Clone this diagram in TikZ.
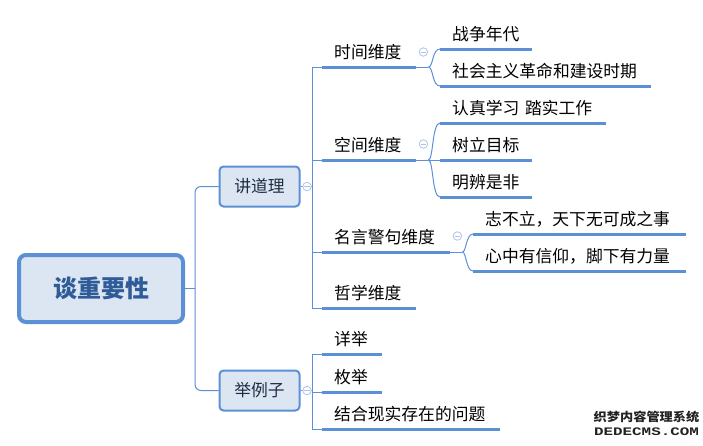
\documentclass[tikz,border=0pt]{standalone}
\usepackage{fontspec}
\setmainfont{Noto Sans CJK SC}
\newfontfamily\wmmono{Liberation Mono}
\definecolor{lineblue}{HTML}{5B8FD6}
\definecolor{boxfill}{HTML}{DCE6F2}
\definecolor{rootink}{HTML}{2F5C99}
\definecolor{boxink}{HTML}{1F2D44}
\definecolor{circblue}{HTML}{AFC4E6}
\definecolor{wmink}{HTML}{222222}
\tikzset{
  conn/.style={draw=lineblue, line width=1pt},
  uline/.style={draw=lineblue, line width=3pt},
  rootbox/.style={draw=lineblue, line width=4pt, fill=boxfill, rounded corners=7pt,
    minimum width=164pt, minimum height=67pt, inner sep=0pt,
    font=\fontsize{24}{28}\selectfont\bfseries, text=rootink},
  subbox/.style={draw=lineblue, line width=2pt, fill=boxfill, rounded corners=4pt,
    minimum width=80pt, minimum height=40pt, inner sep=0pt,
    font=\fontsize{16.8}{20}\selectfont, text=boxink},
  topic/.style={anchor=south west, inner xsep=12pt, inner ysep=5.5pt,
    text height=13pt, text depth=3pt, text width=#1, align=left,
    font=\fontsize{16.8}{20}\selectfont, text=black},
  collapse/.style={circle, draw=circblue, fill=white, line width=0.8pt,
    minimum size=8.5pt, inner sep=0pt,
    path picture={\draw[circblue, line width=0.8pt]
      ([xshift=-2.6pt]path picture bounding box.center) --
      ([xshift=2.6pt]path picture bounding box.center);}},
}
\begin{document}
\begin{tikzpicture}[x=1pt,y=-1pt]
\useasboundingbox (0,0) rectangle (703,445);

% main boxes
\node[rootbox] (root) at (101,288.5) {谈重要性};
\node[subbox] (b1) at (259.5,186.5) {讲道理};
\node[subbox] (b2) at (259.5,390.5) {举例子};

% level 2 topics
\node[topic=70pt] (t1) at (322,67) {时间维度};
\node[topic=70pt] (t2) at (322,160) {空间维度};
\node[topic=104pt] (t3) at (322,252) {名言警句维度};
\node[topic=70pt] (t4) at (322,308) {哲学维度};
\node[topic=36pt] (e1) at (322,354) {详举};
\node[topic=36pt] (e2) at (322,392) {枚举};
\node[topic=154pt] (e3) at (322,429) {结合现实存在的问题};

% level 3 topics
\node[topic=68pt] (c1) at (440,49) {战争年代};
\node[topic=187pt] (c2) at (440,86) {社会主义革命和建设时期};
\node[topic=142pt] (s1) at (440,123) {认真学习 踏实工作};
\node[topic=68pt] (s2) at (440,160) {树立目标};
\node[topic=68pt] (s3) at (440,197) {明辨是非};
\node[topic=189pt] (m1) at (473,234) {志不立，天下无可成之事};
\node[topic=189pt] (m2) at (473,271) {心中有信仰，脚下有力量};

% underlines
\foreach \n in {t1,t2,t3,t4,e1,e2,e3,c1,c2,s1,s2,s3,m1,m2}
  \draw[uline] (\n.south west) -- (\n.south east);

% root to main boxes
\coordinate (sp0) at ([xshift=10pt]root.east);
\draw[conn] (root.east) -- (sp0);
\draw[conn, rounded corners=6pt] (b1.west) -| (sp0) |- (b2.west);

% 讲道理 branch
\coordinate (sp1) at ([xshift=12pt]b1.east);
\draw[conn] (b1.east) -- (sp1);
\draw[conn] (t1.south west) -| (sp1) |- (t4.south west);
\draw[conn] (t2.south west) -- (t2.south west -| sp1);
\draw[conn] (t3.south west) -- (t3.south west -| sp1);

% 举例子 branch
\coordinate (sp2) at ([xshift=12pt]b2.east);
\draw[conn] (b2.east) -- (sp2);
\draw[conn] (e1.south west) -| (sp2) |- (e3.south west);
\draw[conn] (e2.south west) -- (e2.south west -| sp2);

% 时间维度 children
\coordinate (j1) at ([xshift=12pt]t1.south east);
\draw[conn] (t1.south east) -- (j1);
\draw[conn] (j1) .. controls +(5,0) and +(-8,0) .. (c1.south west);
\draw[conn] (j1) .. controls +(5,0) and +(-8,0) .. (c2.south west);

% 空间维度 children
\coordinate (j2) at ([xshift=12pt]t2.south east);
\draw[conn] (t2.south east) -- (s2.south west);
\draw[conn] (j2) .. controls +(5,0) and +(-8,0) .. (s1.south west);
\draw[conn] (j2) .. controls +(5,0) and +(-8,0) .. (s3.south west);

% 名言警句维度 children
\coordinate (j3) at ([xshift=12pt]t3.south east);
\draw[conn] (t3.south east) -- (j3);
\draw[conn] (j3) .. controls +(4,0) and +(-7,0) .. (m1.south west);
\draw[conn] (j3) .. controls +(4,0) and +(-7,0) .. (m2.south west);

% collapse markers
\node[collapse] (k1) at ([xshift=6.5pt]b1.east) {};
\node[collapse] (k2) at ([xshift=6.5pt]b2.east) {};
\node[collapse] (k3) at ([xshift=7pt,yshift=15pt]t1.south east) {};
\node[collapse] (k4) at ([xshift=7pt,yshift=16pt]t2.south east) {};
\node[collapse] (k5) at ([xshift=7pt,yshift=16pt]t3.south east) {};

% watermark
\node[inner sep=0pt, text=wmink, font=\fontsize{12}{14}\selectfont\bfseries] (wm1) at (646.5,417)
  {\scalebox{1.1}[1]{织梦内容管理系统}};
\node[inner sep=0pt, text=wmink, font=\wmmono\fontsize{11.5}{13}\selectfont\bfseries] (wm2) at (646.5,432)
  {\scalebox{1.38}[1]{DEDECMS.COM}};
\end{tikzpicture}
\end{document}
